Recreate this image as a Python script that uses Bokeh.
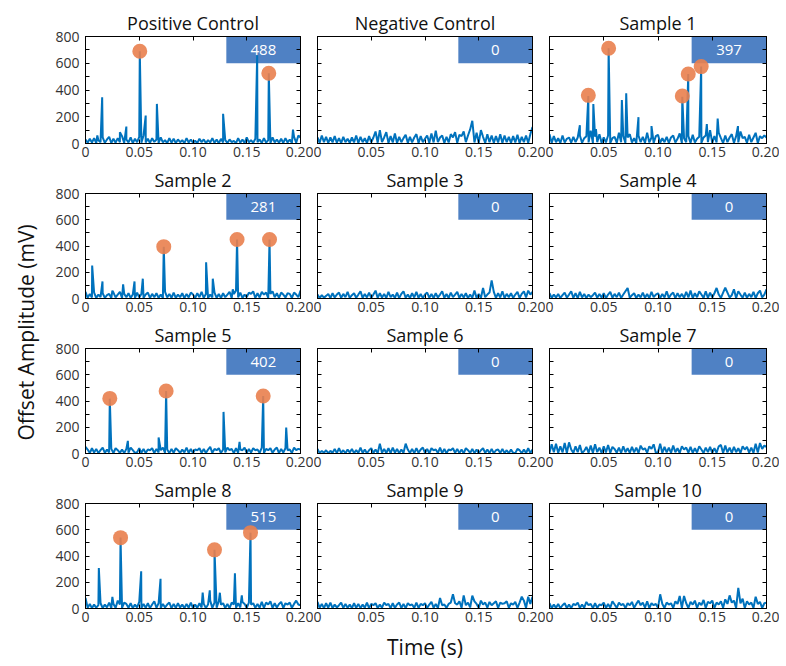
import math
from bokeh.plotting import figure
from bokeh.layouts import row, column
from bokeh.models import (Range1d, FixedTicker, LinearAxis, Label, BoxAnnotation,
                          PrintfTickFormatter, CustomLabelingPolicy)
from bokeh.embed import file_html
from bokeh.resources import INLINE

# ---------------- data ----------------
titles = ["Positive Control", "Negative Control", "Sample 1",
          "Sample 2", "Sample 3", "Sample 4",
          "Sample 5", "Sample 6", "Sample 7",
          "Sample 8", "Sample 9", "Sample 10"]
counts = [488, 0, 397, 281, 0, 0, 402, 0, 0, 515, 0, 0]

x_ticks = [0, 0.05, 0.10, 0.15, 0.20]
y_ticks = [0, 200, 400, 600, 800]
y_minor = [100, 300, 500, 700]

# baseline noise, sampled every 2 ms from 0 to 0.2 s (mV)
pc_noise = [30, 5, 35, 8, 40, 3, 25, 10, 45, 5, 30, 50, 4, 35, 6, 40, 10, 55, 5, 30,
            8, 45, 3, 35, 10, 50, 5, 60, 8, 35, 4, 40, 12, 30, 5, 45, 8, 25, 3, 40,
            6, 35, 4, 30, 10, 25, 3, 40, 8, 30, 5, 20, 4, 35, 10, 30, 3, 25, 8, 40,
            5, 30, 2, 35, 8, 25, 4, 30, 10, 20, 3, 40, 6, 30, 4, 45, 8, 25, 5, 35,
            10, 30, 4, 40, 6, 25, 3, 45, 8, 30, 5, 35, 4, 40, 8, 30, 3, 50, 6, 60, 45]
neg_noise = [45, 5, 60, 10, 50, 4, 45, 8, 55, 6, 40, 3, 50, 10, 35, 5, 45, 8, 60, 4,
             50, 10, 40, 3, 55, 8, 45, 90, 6, 100, 10, 45, 85, 5, 55, 8, 75, 4, 50, 10,
             40, 65, 5, 50, 8, 45, 70, 4, 55, 10, 35, 60, 5, 75, 8, 95, 10, 45, 60, 4,
             50, 8, 70, 45, 85, 5, 65, 55, 90, 10, 60, 105, 170, 8, 80, 5, 100, 50, 4, 70,
             10, 60, 5, 55, 8, 70, 4, 60, 10, 50, 5, 55, 8, 65, 4, 50, 10, 60, 5, 70, 124]
s1_noise = [70, 5, 55, 10, 40, 4, 60, 8, 35, 45, 6, 50, 10, 45, 60, 5, 40, 55, 8, 95,
            4, 50, 10, 70, 5, 45, 8, 60, 4, 40, 50, 6, 80, 10, 55, 5, 45, 70, 8, 40,
            4, 60, 10, 50, 5, 80, 8, 45, 4, 55, 65, 6, 40, 10, 50, 5, 45, 60, 8, 35,
            75, 4, 40, 10, 55, 5, 65, 8, 35, 50, 4, 45, 60, 10, 100, 5, 55, 8, 80, 40,
            4, 60, 10, 45, 70, 5, 55, 8, 90, 40, 50, 5, 65, 10, 45, 80, 4, 55, 40, 60, 45]
s2_noise = [50, 5, 35, 8, 45, 4, 30, 10, 40, 5, 25, 35, 3, 45, 8, 30, 50, 4, 35, 10,
            40, 5, 30, 3, 45, 8, 35, 5, 30, 45, 4, 35, 10, 40, 5, 30, 3, 50, 8, 35,
            5, 45, 4, 30, 10, 40, 3, 35, 8, 45, 30, 4, 40, 10, 50, 5, 35, 3, 30, 8,
            45, 5, 35, 4, 40, 10, 30, 50, 5, 35, 60, 8, 45, 4, 30, 10, 45, 35, 55, 5,
            40, 8, 50, 30, 45, 4, 35, 55, 10, 40, 5, 45, 30, 8, 40, 35, 4, 45, 30, 10, 60]
s3_noise = [30, 3, 25, 6, 20, 35, 4, 40, 8, 30, 45, 5, 35, 10, 50, 4, 25, 40, 6, 30,
            55, 5, 35, 8, 45, 4, 30, 60, 5, 40, 8, 35, 4, 50, 10, 30, 5, 45, 3, 35,
            55, 6, 30, 4, 40, 8, 50, 5, 35, 3, 30, 45, 6, 35, 4, 40, 8, 30, 55, 5,
            35, 4, 45, 10, 30, 50, 5, 35, 8, 40, 3, 30, 6, 60, 5, 35, 4, 80, 10, 30,
            45, 138, 50, 5, 40, 8, 55, 4, 35, 10, 40, 5, 30, 50, 4, 35, 55, 8, 60, 30, 50]
s4_noise = [40, 5, 30, 8, 35, 4, 25, 45, 6, 30, 55, 5, 40, 3, 50, 8, 35, 4, 30, 10,
            25, 45, 5, 35, 8, 40, 3, 30, 50, 6, 35, 10, 45, 4, 30, 55, 80, 5, 25, 40,
            4, 30, 8, 45, 5, 35, 3, 50, 10, 30, 40, 4, 35, 8, 55, 5, 30, 45, 3, 40,
            10, 35, 5, 50, 8, 60, 4, 40, 10, 55, 30, 5, 55, 4, 45, 8, 40, 80, 30, 5,
            45, 82, 45, 8, 25, 70, 4, 55, 30, 6, 45, 5, 35, 10, 50, 4, 40, 60, 8, 30, 70]
s5_noise = [50, 30, 4, 40, 8, 35, 3, 25, 45, 5, 30, 8, 35, 4, 40, 25, 5, 30, 3, 35,
            6, 45, 25, 4, 10, 40, 5, 35, 3, 30, 25, 40, 4, 35, 8, 25, 45, 5, 30, 3,
            35, 6, 40, 25, 4, 30, 8, 45, 5, 35, 3, 30, 25, 40, 6, 35, 4, 30, 50, 5,
            35, 25, 40, 4, 30, 8, 45, 25, 35, 3, 40, 6, 30, 25, 45, 4, 35, 8, 40, 25,
            30, 5, 45, 4, 35, 25, 40, 6, 30, 45, 3, 35, 8, 40, 25, 30, 4, 45, 25, 35, 30]
s6_noise = [35, 3, 20, 5, 25, 2, 20, 6, 35, 3, 40, 5, 25, 2, 30, 8, 35, 3, 25, 5,
            45, 4, 30, 2, 25, 40, 5, 30, 3, 75, 6, 35, 4, 40, 3, 45, 6, 35, 2, 30,
            5, 75, 30, 4, 35, 3, 40, 6, 30, 45, 4, 35, 2, 40, 25, 30, 5, 45, 3, 35,
            2, 30, 25, 40, 5, 35, 3, 30, 2, 40, 25, 4, 35, 3, 30, 2, 25, 40, 5, 30,
            3, 35, 2, 25, 30, 4, 35, 3, 25, 2, 30, 5, 3, 35, 25, 2, 30, 4, 40, 3, 30]
s7_noise = [5, 70, 10, 75, 5, 55, 8, 80, 4, 85, 30, 5, 55, 10, 65, 4, 20, 50, 6, 60,
            5, 70, 10, 45, 4, 55, 8, 65, 5, 50, 35, 6, 45, 4, 55, 10, 40, 5, 50, 8,
            45, 4, 60, 30, 40, 6, 55, 35, 70, 5, 10, 75, 4, 50, 8, 45, 5, 60, 10, 40,
            4, 55, 30, 45, 6, 50, 5, 40, 8, 55, 30, 4, 45, 10, 50, 5, 40, 6, 55, 65,
            4, 60, 8, 45, 5, 50, 10, 40, 4, 55, 30, 50, 6, 45, 5, 75, 8, 80, 35, 60, 50]
s8_noise = [80, 5, 35, 3, 30, 6, 25, 40, 4, 30, 8, 45, 3, 35, 5, 60, 30, 4, 45, 35,
            6, 40, 3, 30, 8, 50, 4, 35, 5, 40, 3, 30, 55, 6, 40, 4, 35, 8, 30, 45,
            3, 35, 5, 40, 8, 30, 4, 35, 6, 45, 3, 30, 5, 40, 8, 35, 4, 30, 60, 5,
            45, 6, 55, 30, 40, 4, 35, 3, 45, 30, 5, 40, 8, 50, 35, 4, 45, 30, 40, 5,
            35, 6, 50, 4, 45, 30, 55, 5, 40, 8, 35, 50, 4, 40, 30, 45, 5, 35, 60, 30, 25]
s9_noise = [50, 5, 35, 3, 40, 6, 45, 3, 30, 8, 25, 45, 4, 35, 6, 30, 3, 40, 5, 35,
            3, 30, 6, 45, 3, 35, 25, 40, 4, 30, 6, 45, 25, 35, 3, 40, 5, 30, 45, 4,
            35, 3, 40, 25, 30, 5, 45, 4, 35, 25, 40, 3, 30, 50, 6, 35, 4, 80, 25, 30,
            5, 35, 45, 108, 40, 30, 55, 6, 100, 25, 45, 8, 98, 55, 35, 5, 60, 30, 45, 6,
            50, 25, 40, 55, 5, 45, 35, 40, 55, 6, 40, 30, 50, 4, 45, 90, 60, 5, 90, 35, 90]
s10_noise = [40, 3, 30, 5, 35, 2, 25, 40, 4, 30, 3, 35, 25, 45, 4, 30, 6, 50, 25, 35,
             3, 40, 5, 30, 25, 45, 4, 35, 6, 55, 30, 4, 45, 25, 35, 3, 40, 25, 50, 5,
             35, 60, 25, 45, 6, 55, 4, 40, 25, 35, 5, 108, 35, 4, 45, 30, 40, 5, 55, 35,
             95, 6, 95, 40, 4, 50, 30, 60, 5, 45, 25, 65, 4, 50, 40, 60, 5, 45, 30, 55,
             6, 70, 35, 100, 45, 60, 5, 157, 40, 75, 4, 55, 30, 45, 5, 90, 35, 50, 4, 40, 45]

# spikes (time s, amplitude mV)
pc_peak_t = [0.011, 0.0155, 0.032, 0.038, 0.0505, 0.056, 0.0664, 0.128, 0.1597, 0.1705, 0.193]
pc_peak_v = [60, 345, 85, 127, 690, 209, 296, 222, 660, 525, 104]
s1_peak_t = [0.028, 0.0358, 0.0404, 0.0428, 0.0545, 0.0667, 0.0707, 0.082, 0.094,
             0.1224, 0.1279, 0.1398, 0.145, 0.155, 0.1737]
s1_peak_v = [137, 355, 295, 107, 712, 325, 375, 197, 130, 350, 520, 575, 145, 187, 130]
s2_peak_t = [0.0062, 0.0158, 0.025, 0.035, 0.0456, 0.0533, 0.0728, 0.1122, 0.1184, 0.137, 0.141, 0.1712]
s2_peak_v = [251, 130, 60, 108, 130, 151, 395, 276, 151, 70, 450, 450]
s5_peak_t = [0.0226, 0.0394, 0.068, 0.075, 0.1284, 0.1433, 0.1653, 0.1867]
s5_peak_v = [418, 96, 122, 476, 317, 89, 438, 198]
s8_peak_t = [0.0124, 0.025, 0.0326, 0.0518, 0.0698, 0.109, 0.1156, 0.12, 0.125, 0.139, 0.1454, 0.1535]
s8_peak_v = [309, 88, 540, 284, 226, 121, 138, 447, 120, 269, 100, 578]

# detected events (orange markers)
pc_mark_t = [0.0505, 0.1705]
pc_mark_v = [690, 525]
s1_mark_t = [0.0358, 0.0545, 0.1224, 0.1279, 0.1398]
s1_mark_v = [360, 712, 355, 520, 575]
s2_mark_t = [0.0728, 0.141, 0.1712]
s2_mark_v = [395, 450, 450]
s5_mark_t = [0.0226, 0.075, 0.1653]
s5_mark_v = [420, 476, 438]
s8_mark_t = [0.0326, 0.12, 0.1535]
s8_mark_v = [540, 447, 578]

noises = [pc_noise, neg_noise, s1_noise, s2_noise, s3_noise, s4_noise,
          s5_noise, s6_noise, s7_noise, s8_noise, s9_noise, s10_noise]
peaks = {0: (pc_peak_t, pc_peak_v), 2: (s1_peak_t, s1_peak_v), 3: (s2_peak_t, s2_peak_v),
         6: (s5_peak_t, s5_peak_v), 9: (s8_peak_t, s8_peak_v)}
marks = {0: (pc_mark_t, pc_mark_v), 2: (s1_mark_t, s1_mark_v), 3: (s2_mark_t, s2_mark_v),
         6: (s5_mark_t, s5_mark_v), 9: (s8_mark_t, s8_mark_v)}

# ---------------- style ----------------
FONT = "Open Sans"
BLUE = "#0072BD"
BOX_COLOR = "#4F81C4"
ORANGE = "#E9804E"
X0, X1 = 0.0, 0.2
Y0, Y1 = 0, 800
BOX_X0, BOX_Y0 = 0.131, 600

HIDE_JS = """
for (let i = 0; i < indices.size; i++) {
  try { indices.set(i, false) } catch (e) {}
}
return indices
"""


def hidden_policy():
    return CustomLabelingPolicy(code=HIDE_JS)


def trace(i):
    noise = noises[i]
    n = len(noise)
    pts = [(X1 * k / (n - 1), v) for k, v in enumerate(noise)]
    if i in peaks:
        pts += list(zip(*peaks[i]))
    pts.sort()
    return [p[0] for p in pts], [p[1] for p in pts]


def make_panel(i):
    r, c = divmod(i, 3)
    left = 35 if c == 0 else 4
    fw = 217 if c == 2 else 215
    right = 13
    top = 36 if r == 0 else 29
    bottom = 56 if r == 3 else 20
    fh = 107 if r == 0 else 106
    height = top + fh + bottom
    p = figure(width=left + fw + right, height=height,
               x_range=Range1d(X0, X1), y_range=Range1d(Y0, Y1),
               output_backend="svg", toolbar_location=None,
               min_border_left=left, min_border_right=right,
               min_border_top=top, min_border_bottom=bottom, title=titles[i])
    p.title.align = "center"
    p.title.text_font = FONT
    p.title.text_font_size = "18px"
    p.title.text_font_style = "normal"
    p.title.text_color = "#111111"
    p.title.standoff = 4
    p.xgrid.visible = False
    p.ygrid.visible = False
    p.outline_line_color = "black"
    p.outline_line_width = 1
    p.background_fill_color = "white"
    p.border_fill_color = "white"

    xa = p.xaxis[0]
    xa.ticker = FixedTicker(ticks=x_ticks, minor_ticks=[])
    xa.formatter = PrintfTickFormatter(format="%.2f")
    xa.major_label_overrides = {0: "0"}
    xa.major_tick_in = 4
    xa.major_tick_out = 0
    xa.major_label_standoff = 3
    xa.axis_line_color = "black"
    xa.major_tick_line_color = "black"
    xa.major_label_text_font = FONT
    xa.major_label_text_font_size = "14px"
    xa.major_label_text_color = "#333333"
    if r == 3 and c == 1:
        xa.axis_label = "Time (s)"
        xa.axis_label_text_font = FONT
        xa.axis_label_text_font_size = "21px"
        xa.axis_label_text_font_style = "normal"
        xa.axis_label_text_color = "#111111"
        xa.axis_label_standoff = 8

    ya = p.yaxis[0]
    ya.ticker = FixedTicker(ticks=y_ticks, minor_ticks=y_minor)
    ya.major_tick_in = 4
    ya.major_tick_out = 0
    ya.minor_tick_in = 4
    ya.minor_tick_out = 0
    ya.axis_line_color = "black"
    ya.major_label_text_font = FONT
    ya.major_label_text_color = "#333333"
    if c == 0:
        ya.major_label_text_font_size = "14px"
        ya.major_label_standoff = 6
    else:
        ya.major_label_text_font_size = "0px"
        ya.major_label_standoff = 0
        ya.major_label_policy = hidden_policy()

    ra = LinearAxis(ticker=FixedTicker(ticks=y_ticks, minor_ticks=y_minor),
                    major_label_text_font_size="0px", major_label_standoff=0,
                    major_label_policy=hidden_policy(),
                    major_tick_in=4, major_tick_out=0, minor_tick_in=4, minor_tick_out=0,
                    axis_line_color="black")
    p.add_layout(ra, "right")
    ta = LinearAxis(ticker=FixedTicker(ticks=x_ticks, minor_ticks=[]),
                    major_label_text_font_size="0px", major_label_standoff=0,
                    major_label_policy=hidden_policy(),
                    major_tick_in=4, major_tick_out=0, axis_line_color="black")
    p.add_layout(ta, "above")

    p.add_layout(BoxAnnotation(left=BOX_X0, right=X1, bottom=BOX_Y0, top=Y1,
                               fill_color=BOX_COLOR, fill_alpha=1.0, line_color=None,
                               level="underlay"))
    tx, ty = trace(i)
    p.line(tx, ty, line_color=BLUE, line_width=2.0)
    if i in marks:
        mt, mv = marks[i]
        p.scatter(mt, mv, size=15, fill_color=ORANGE, fill_alpha=0.9, line_color=None)
    p.add_layout(Label(x=(BOX_X0 + X1) / 2, y=(BOX_Y0 + Y1) / 2, text=str(counts[i]),
                       text_color="white", text_align="center", text_baseline="middle",
                       text_font=FONT, text_font_size="15px"))
    return p


panels = [make_panel(i) for i in range(12)]
grid = column(*[row(*panels[3 * k:3 * k + 3]) for k in range(4)])

TOTAL_H = (36 + 107 + 20) + 2 * (29 + 106 + 20) + (29 + 106 + 56)
yl = figure(width=50, height=TOTAL_H, x_range=Range1d(0, 1), y_range=Range1d(0, 1),
            output_backend="svg", toolbar_location=None, min_border=0,
            x_axis_location=None, y_axis_location=None)
yl.xgrid.visible = False
yl.ygrid.visible = False
yl.outline_line_color = None
yl.add_layout(Label(x=25, y=TOTAL_H - 332, x_units="screen", y_units="screen",
                    text="Offset Amplitude (mV)", angle=math.pi / 2,
                    text_align="center", text_baseline="middle",
                    text_font=FONT, text_font_size="21px", text_color="#111111"))

layout = row(yl, grid)
open("out.html", "w").write(file_html(layout, INLINE))
